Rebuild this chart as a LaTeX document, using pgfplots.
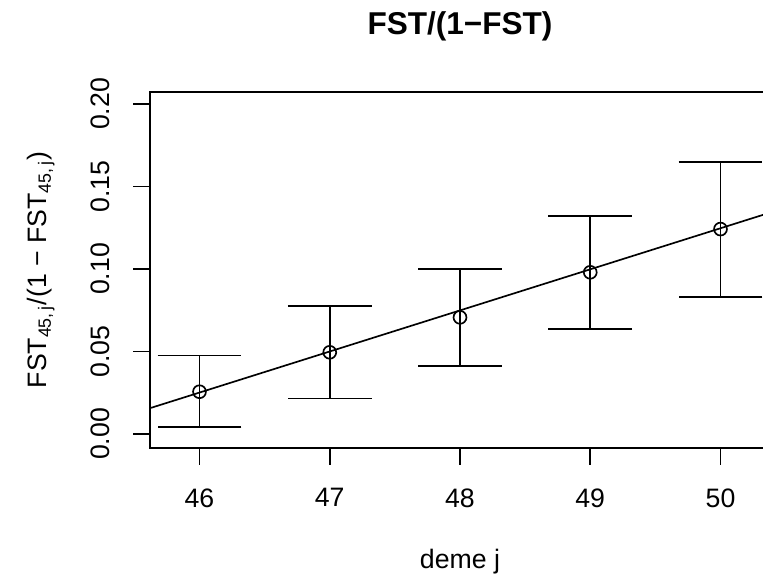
\documentclass[border=0pt]{standalone}
\usepackage{fontspec}
\setmainfont{Liberation Sans}
\usepackage{pgfplots}
\pgfplotsset{compat=1.18}

\begin{document}
\begin{tikzpicture}
\begin{axis}[
    at={(0,0)}, anchor=south west,
    scale only axis,
    width=279pt, height=160.2pt,
    xmin=45.62, xmax=50.38,
    ymin=-0.0085, ymax=0.2073,
    xtick={46,47,48,49,50},
    ytick={0,0.05,0.1,0.15,0.2},
    yticklabels={0.00,0.05,0.10,0.15,0.20},
    tick align=outside,
    tick pos=left,
    major tick length=7.5pt,
    tick style={black, line width=0.75pt},
    axis line style={black, line width=0.75pt},
    /pgf/number format/assume math mode=true,
    ticklabel style={font=\fontsize{12}{14}\selectfont, inner sep=0pt},
    xticklabel style={anchor=north},
    yticklabel style={rotate=90, anchor=south},
    xticklabel shift=10.5pt,
    yticklabel shift=10.5pt,
]
% regression line
\addplot[black, line width=0.75pt] coordinates {(45,0.0002) (51,0.1496)};
% estimates with intervals
\addplot[black, line width=0.75pt, only marks, mark=o, mark size=2.9pt,
    error bars/.cd, y dir=both, y explicit,
    error bar style={line width=0.75pt},
    error mark options={line width=0.75pt, mark size=18.8pt, rotate=90}]
  table[x=x, y=y, y error plus=ep, y error minus=em] {
x    y       ep      em
46   0.0256  0.0219  0.0215
47   0.0495  0.0279  0.0279
48   0.0707  0.0291  0.0293
49   0.0980  0.0341  0.0344
50   0.1242  0.0406  0.0412
};
\end{axis}
\node[anchor=base, font=\fontsize{14.2}{17}\selectfont\bfseries] at (139.5pt,185.85pt) {FST/(1−FST)};
\node[anchor=base, font=\fontsize{12}{14}\selectfont] at (139.5pt,-54.45pt) {deme j};
\node[anchor=base, rotate=90, font=\fontsize{12}{14}\selectfont] at (-46.35pt,80.1pt)
  {FST\textsubscript{45,\,j}/(1 − FST\textsubscript{45,\,j})};
\pgfresetboundingbox
\path (-67.5pt,-59.85pt) rectangle (275.85pt,201.6pt);
\end{tikzpicture}
\end{document}
